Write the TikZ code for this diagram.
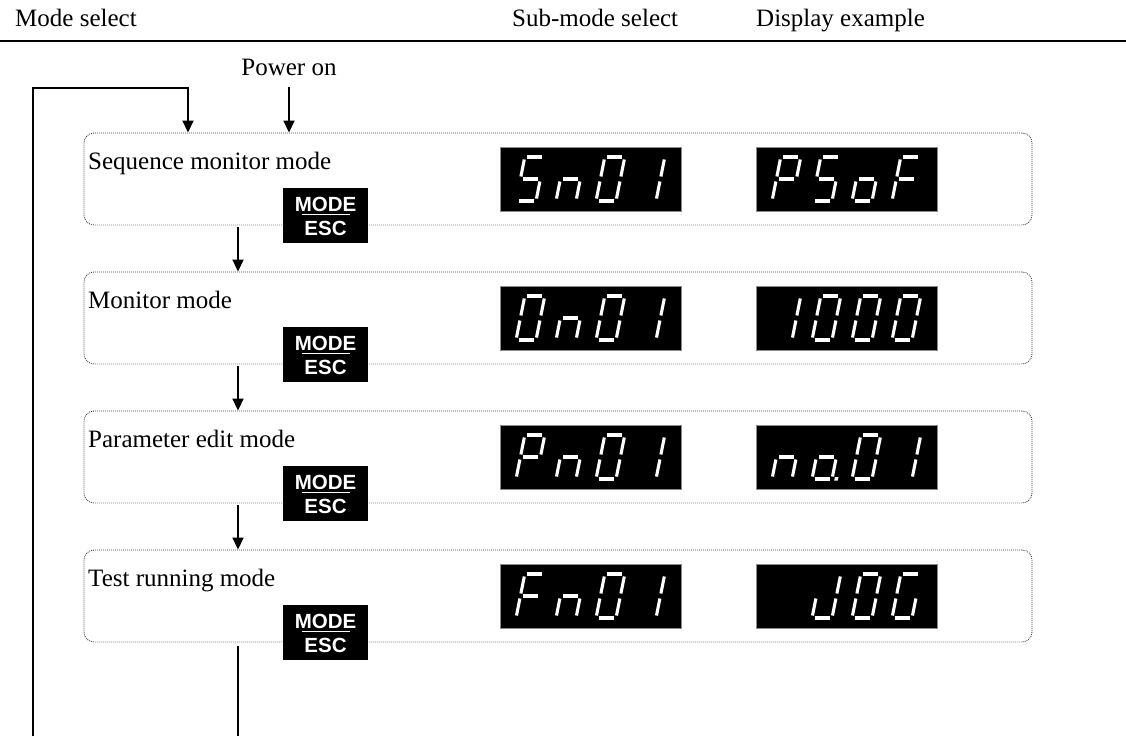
\documentclass[tikz,border=0pt]{standalone}
\usepackage{fontspec}
\setmainfont{Liberation Serif}
\newfontfamily\keyfont{Liberation Sans}
\usetikzlibrary{arrows.meta}
% seven-segment pieces (local units: pt, y upward)
\newcommand\SgA{\draw[seg] (2.5,44)--(17.5,44);}
\newcommand\SgB{\draw[seg] (20,41.5)--(20,24.5);}
\newcommand\SgC{\draw[seg] (20,19.5)--(20,2.5);}
\newcommand\SgD{\draw[seg] (2.5,0)--(17.5,0);}
\newcommand\SgE{\draw[seg] (0,2.5)--(0,19.5);}
\newcommand\SgF{\draw[seg] (0,24.5)--(0,41.5);}
\newcommand\SgG{\draw[seg] (2.5,22)--(17.5,22);}
\newcommand\SgP{\fill[white] (22.5,-1.6) rectangle (26,1.9);}
\newcommand\SgN{}
\def\dgS{A,C,D,F,G}
\def\dgn{C,E,G}
\def\dgZ{A,B,C,D,E,F}
\def\dgI{B,C}
\def\dgP{A,B,E,F,G}
\def\dgo{C,D,E,G}
\def\dgod{C,D,E,G,P}
\def\dgF{A,E,F,G}
\def\dgJ{B,C,D,E}
\def\dgG{A,C,D,E,F}
\def\dgN{N}
\newcommand\sdig[3]{%
  \begin{scope}[shift={(#1,#2)},x=1pt,y=1pt,xslant=0.2]
    \foreach \s in #3 {\csname Sg\s\endcsname}
  \end{scope}}
\newcommand\disp[7]{%
  \node[disp] (#1) at (#2,#3) {};
  \sdig{#2-75}{#3+22}{#4}%
  \sdig{#2-35}{#3+22}{#5}%
  \sdig{#2+5}{#3+22}{#6}%
  \sdig{#2+45}{#3+22}{#7}}
\newcommand\moderow[3]{%
  \node[rbox] (r#1) at (558,#2+46) {};
  \node[lab] (l#1) at (88,#2+36) {#3};
  \node[key] (k#1) at (325.5,#2+82) {};
  \node[keyt] (km#1) at (325.5,#2+78) {MODE};
  \draw[white, line width=1.7pt] (301.5,#2+81.5) -- (349.5,#2+81.5);
  \node[keyt] (ke#1) at (325.5,#2+102.5) {ESC};}
\begin{document}
\begin{tikzpicture}[x=1pt,y=-1pt,
  seg/.style={white, line width=3.1pt},
  txt/.style={inner sep=0pt, anchor=base, font=\fontsize{25}{30}\selectfont},
  lab/.style={txt, anchor=base west},
  rbox/.style={draw=black!75, line width=0.9pt, dash pattern=on 0.9pt off 1.1pt,
    rounded corners=10pt, minimum width=948pt, minimum height=92pt, inner sep=0pt},
  key/.style={fill=black, minimum width=85pt, minimum height=55pt, inner sep=0pt},
  keyt/.style={text=white, inner sep=0pt, anchor=base, font=\keyfont\bfseries\fontsize{20.5}{22}\selectfont},
  disp/.style={fill=black, draw=black!45, line width=0.8pt, minimum width=181pt, minimum height=64pt, inner sep=0pt},
  ln/.style={line width=1.8pt},
  arr/.style={ln, -{Triangle[length=12pt,width=11pt]}}]
\useasboundingbox (0,0) rectangle (1126,736);
% header
\node[lab] (h1) at (15,26) {Mode select};
\node[lab] (h2) at (512,26) {Sub-mode select};
\node[lab] (h3) at (756,26) {Display example};
\draw[line width=2.2pt] (0,41) -- (1126,41);
% rows
\moderow{1}{133}{Sequence monitor mode}
\moderow{2}{272}{Monitor mode}
\moderow{3}{411}{Parameter edit mode}
\moderow{4}{550}{Test running mode}
\disp{s1}{591}{179}{\dgS}{\dgn}{\dgZ}{\dgI}
\disp{e1}{847}{179}{\dgP}{\dgS}{\dgo}{\dgF}
\disp{s2}{591}{318}{\dgZ}{\dgn}{\dgZ}{\dgI}
\disp{e2}{847}{318}{\dgI}{\dgZ}{\dgZ}{\dgZ}
\disp{s3}{591}{457}{\dgP}{\dgn}{\dgZ}{\dgI}
\disp{e3}{847}{457}{\dgn}{\dgod}{\dgZ}{\dgI}
\disp{s4}{591}{596}{\dgF}{\dgn}{\dgZ}{\dgI}
\disp{e4}{847}{596}{\dgN}{\dgJ}{\dgZ}{\dgG}
% power on
\node[txt] (pw) at (289,75) {Power on};
\draw[arr] ([yshift=-12pt]pw.south) -- (pw.south |- r1.north);
% return loop
\coordinate (lb) at (33,736);
\coordinate (lc) at (33,88);
\coordinate (rc) at (188,88);
\draw[arr] (lb) -- (lc) -- (rc) -- (rc |- r1.north);
% mode steps
\coordinate (o1) at (238,227);
\coordinate (o2) at (238,366);
\coordinate (o3) at (238,505);
\coordinate (o4) at (238,646);
\coordinate (e5) at (238,736);
\draw[arr] (o1) -- (o1 |- r2.north);
\draw[arr] (o2) -- (o2 |- r3.north);
\draw[arr] (o3) -- (o3 |- r4.north);
\draw[ln] (o4) -- (e5);
\end{tikzpicture}
\end{document}
